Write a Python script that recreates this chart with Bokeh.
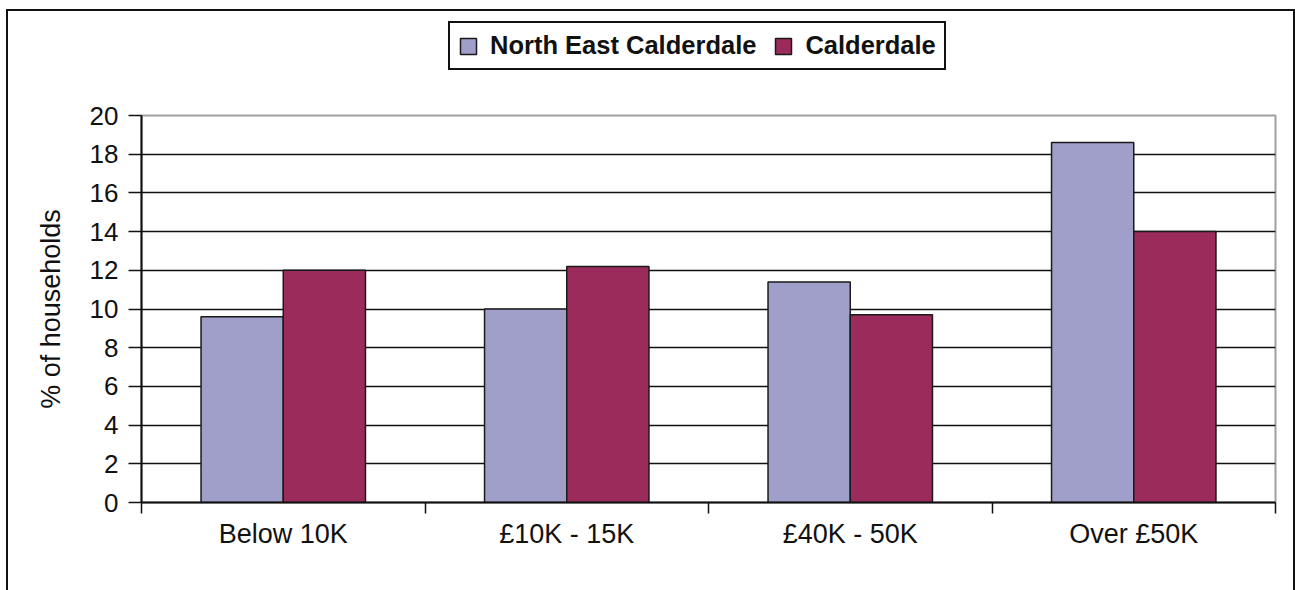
from bokeh.plotting import figure
from bokeh.layouts import column
from bokeh.models import (ColumnDataSource, FactorRange, Range1d, LinearAxis, CategoricalAxis,
                          FixedTicker, Legend, LegendItem)
from bokeh.transform import dodge
from bokeh.embed import file_html
from bokeh.resources import INLINE

categories = ["Below 10K", "£10K - 15K", "£40K - 50K", "Over £50K"]
north_east = [9.6, 10.0, 11.4, 18.6]
calderdale = [12.0, 12.2, 9.7, 14.0]
series_names = ["North East Calderdale", "Calderdale"]
y_ticks = [0, 2, 4, 6, 8, 10, 12, 14, 16, 18, 20]

FONT = "Liberation Sans"
NE_COLOR = "#a09fca"
CAL_COLOR = "#9b2b5b"
EDGE = "#1a1a1a"

source = ColumnDataSource(data=dict(cat=categories, ne=north_east, cal=calderdale))

# ---------------- main chart ----------------
p = figure(x_range=FactorRange(factors=categories, range_padding=0),
           y_range=Range1d(0, 20),
           width=1289, height=490,
           output_backend="svg", toolbar_location=None,
           x_axis_location=None,
           min_border_left=133, min_border_right=22,
           min_border_top=15, min_border_bottom=88)

p.styles = {"margin-left": "6px",
            "border-left": "2px solid #111111",
            "border-right": "2px solid #111111",
            "box-sizing": "border-box",
            "overflow": "hidden"}

p.background_fill_color = "white"
p.border_fill_color = "white"
p.outline_line_color = "#a0a0a0"
p.outline_line_width = 2

p.xgrid.grid_line_color = None
p.ygrid.ticker = FixedTicker(ticks=y_ticks[1:-1])
p.ygrid.grid_line_color = "#111111"
p.ygrid.grid_line_width = 1.5

yax = p.yaxis[0]
yax.ticker = FixedTicker(ticks=y_ticks)
yax.axis_label = "% of households"
yax.axis_label_text_font = FONT
yax.axis_label_text_font_size = "27px"
yax.axis_label_text_font_style = "normal"
yax.axis_label_text_color = "#111111"
yax.axis_label_standoff = 21
yax.major_label_text_font = FONT
yax.major_label_text_font_size = "26px"
yax.major_label_text_color = "#111111"
yax.major_label_standoff = 10
yax.major_tick_out = 13
yax.major_tick_in = 0
yax.minor_tick_out = 0
yax.minor_tick_in = 0
yax.axis_line_color = "#111111"
yax.axis_line_width = 2
yax.major_tick_line_color = "#111111"
yax.major_tick_line_width = 1.5

# x axis: boundary ticks (synthetic coordinates of the factor range) + category labels
boundary_ticks = list(range(len(categories) + 1))
tick_axis = LinearAxis(ticker=FixedTicker(ticks=boundary_ticks),
                       major_label_text_font_size="0px",
                       major_label_standoff=0,
                       major_tick_out=11, major_tick_in=0,
                       minor_tick_out=0, minor_tick_in=0,
                       axis_line_color="#111111", axis_line_width=2,
                       major_tick_line_color="#111111", major_tick_line_width=1.5)
p.add_layout(tick_axis, "below")

label_axis = CategoricalAxis(major_tick_out=0, major_tick_in=0,
                             axis_line_color=None,
                             major_label_text_font=FONT,
                             major_label_text_font_size="27px",
                             major_label_text_color="#111111",
                             major_label_standoff=5)
p.add_layout(label_axis, "below")

p.vbar(x=dodge("cat", -0.145, range=p.x_range), top="ne", width=0.29, source=source,
       fill_color=NE_COLOR, line_color=EDGE, line_width=1.5)
p.vbar(x=dodge("cat", 0.145, range=p.x_range), top="cal", width=0.29, source=source,
       fill_color=CAL_COLOR, line_color=EDGE, line_width=1.5)

# ---------------- legend strip above the chart ----------------
# key glyphs use the same data, but this strip's y-range keeps the bars out of view
lf = figure(width=1289, height=91,
            x_range=FactorRange(factors=categories, range_padding=0), y_range=Range1d(30, 31),
            output_backend="svg", toolbar_location=None,
            x_axis_location=None, y_axis_location=None,
            min_border_left=0, min_border_right=0, min_border_top=0, min_border_bottom=0)
lf.styles = {"margin-left": "6px", "margin-top": "9px",
             "border-top": "2px solid #111111",
             "border-left": "2px solid #111111",
             "border-right": "2px solid #111111",
             "box-sizing": "border-box",
             "overflow": "hidden"}
lf.outline_line_color = None
lf.xgrid.grid_line_color = None
lf.ygrid.grid_line_color = None
lf.background_fill_color = "white"
lf.border_fill_color = "white"

k1 = lf.vbar(x="cat", top="ne", width=0.29, source=source,
             fill_color=NE_COLOR, line_color=EDGE, line_width=1.5)
k2 = lf.vbar(x="cat", top="cal", width=0.29, source=source,
             fill_color=CAL_COLOR, line_color=EDGE, line_width=1.5)

legend = Legend(items=[LegendItem(label=series_names[0], renderers=[k1]),
                       LegendItem(label=series_names[1], renderers=[k2])],
                location=(307, 32), orientation="horizontal",
                label_text_font=FONT, label_text_font_size="25.5px",
                label_text_font_style="bold", label_text_color="#111111",
                glyph_width=20, glyph_height=20, label_standoff=12,
                spacing=17, padding=8, margin=0,
                border_line_color="#111111", border_line_width=2, border_line_alpha=1,
                background_fill_color="white", background_fill_alpha=1)
lf.add_layout(legend, "center")

layout = column(lf, p, spacing=0)

open("out.html", "w").write(file_html(layout, INLINE))
